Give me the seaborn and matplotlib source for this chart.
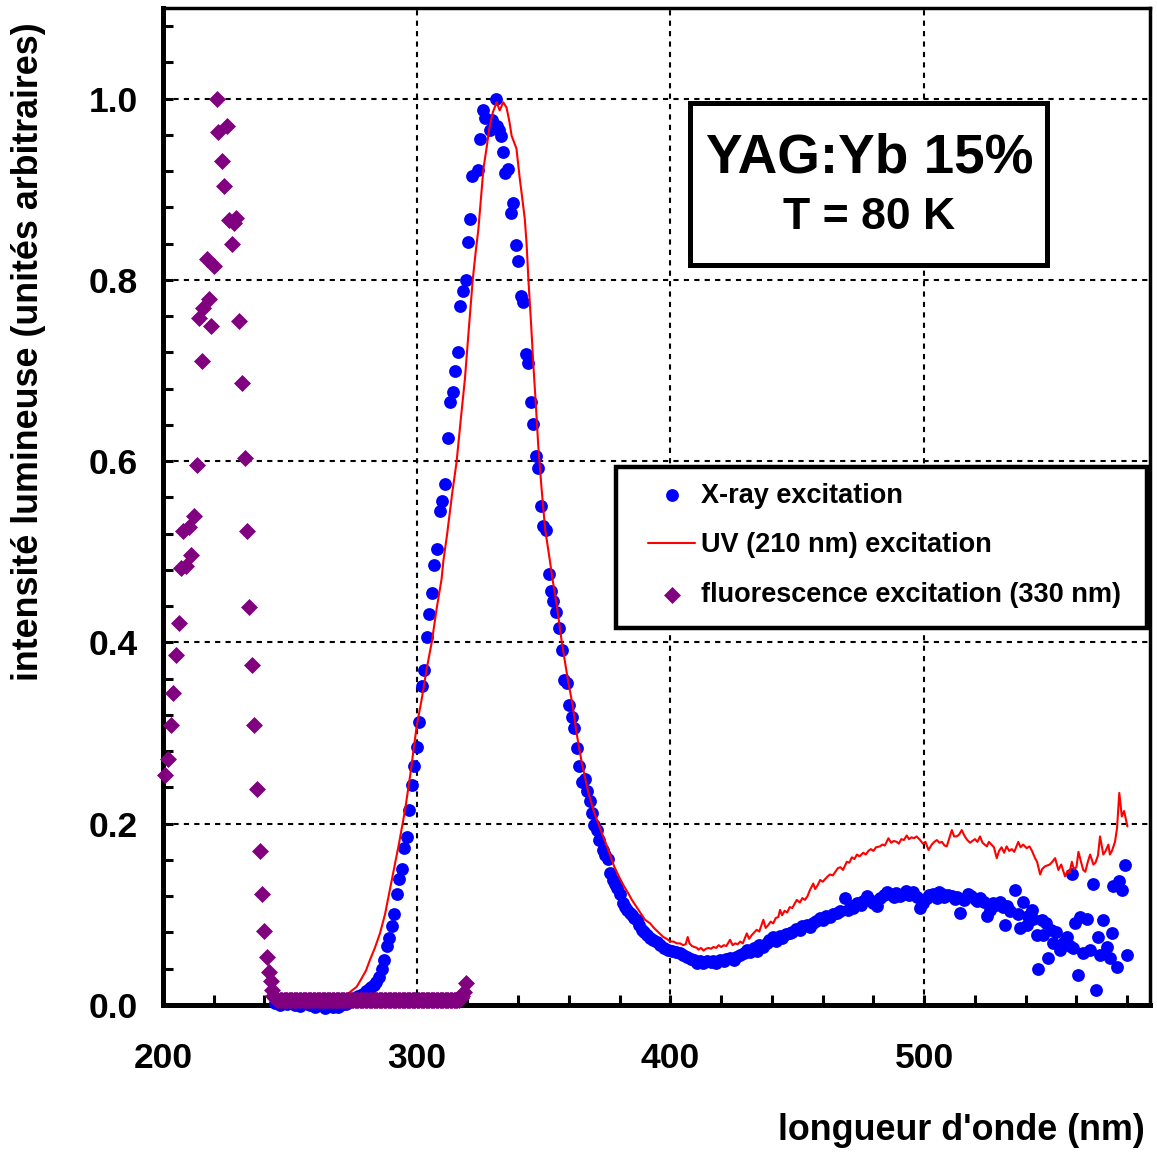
import matplotlib
matplotlib.use('Agg')
import matplotlib.pyplot as plt
import seaborn as sns
import numpy as np
from matplotlib.ticker import MultipleLocator
from matplotlib.patches import Rectangle

# ---------------- data ----------------
xray_nm = [244, 245, 246, 247, 248, 249, 250, 251, 252, 253, 254, 255, 256, 257, 258, 259, 260,
           261, 262, 263, 264, 265, 266, 267, 268, 269, 270, 271, 272, 273, 274, 275, 276, 277, 278,
           279, 280, 281, 282, 283, 284, 285.3, 286.2, 287.2, 288.2, 289.2, 290.4, 291.2, 292.1,
           293.1, 294.1, 295.1, 296.0, 297.1, 298.1, 299.1, 300.0, 301.0, 302.1, 303.0, 303.9,
           305.0, 306.0, 307.0, 307.9, 309.2, 310.1, 311.2, 312.2, 313.1, 314.2, 315.1, 316.2,
           317.1, 318.1, 319.3, 320.1, 321.0, 321.7, 324.3, 325.0, 326.0, 326.9, 328.9, 329.5,
           331.1, 331.5, 332.6, 333.2, 334.1, 334.8, 336.1, 337.2, 338.1, 339.1, 340.0, 341.0,
           342.0, 343.1, 344.0, 345.1, 346.0, 347.0, 347.9, 349.0, 349.9, 351.0, 352.1, 352.9,
           353.8, 354.9, 356.1, 357.2, 358.1, 359.1, 360.1, 361.1, 362.0, 363.1, 364.1, 365.0,
           366.3, 367.2, 368.3, 369.0, 370.0, 371.0, 372.0, 373.3, 374.3, 375.3, 376.2, 377.3,
           378.0, 378.8, 380.1, 381.4, 382.2, 383.0, 384.0, 384.7, 385.7, 386.7, 387.6, 388.6,
           389.6, 390.6, 392.0, 393.3, 394.6, 395.9, 397.5, 399.2, 400.5, 402.0, 403.8, 405.0,
           406.5, 408.0, 409.1, 410.4, 411.5, 413.0, 414.5, 416.0, 416.9, 418.0, 419.5, 421.0,
           422.0, 423.5, 425.0, 426.0, 427.5, 429.0, 430.1, 431.5, 433.0, 434.0, 435.0, 436.6,
           438.0, 439.0, 440.6, 441.5, 443.0, 444.0, 445.5, 447.1, 448.0, 449.5, 451.0, 452.0,
           453.7, 455.0, 456.0, 457.5, 459.0, 460.0, 461.5, 463.0, 464.0, 465.5, 467.0, 468.8,
           470.0, 471.0, 472.1, 473.5, 475.0, 476.0, 477.4, 478.5, 480.0, 481.3, 482.5, 484.0,
           485.2, 486.5, 488.0, 489.0, 490.5, 492.0, 493.0, 494.0, 495.7, 497.0, 498.4, 499.7,
           501.0, 502.0, 503.6, 505.0, 506.0, 506.9, 508.0, 509.5, 510.9, 512.0, 513.0, 514.2,
           515.5, 517.4, 518.5, 520.0, 521.0, 522.0, 523.5, 524.7, 526.0, 527.0, 528.5, 529.9,
           531.0, 531.9, 532.5, 534.0, 535.8, 537.0, 537.7, 539.0, 540.4, 541.0, 542.3, 543.0,
           544.3, 545.0, 546.3, 546.9, 548.2, 548.9, 550.0, 550.9, 552.0, 553.5, 555.0, 556.2,
           557.5, 558.2, 558.8, 559.5, 560.8, 561.5, 562.7, 564.1, 565.4, 566.7, 567.9, 568.6,
           569.3, 570.6, 571.9, 573.2, 573.9, 574.5, 575.9, 576.9, 577.9, 579.2, 579.9]
xray_int = [0.002, 0.003, 0.000, 0.004, 0.002, 0.001, 0.005, 0.002, 0.000, 0.003, -0.001, 0.002,
            0.004, 0.001, 0.000, 0.003, -0.002, 0.001, 0.003, 0.000, -0.003, 0.002, 0.004, -0.002,
            0.001, -0.002, 0.000, 0.002, 0.001, 0.003, 0.004, 0.006, 0.008, 0.010, 0.011,
            0.012, 0.015, 0.018, 0.020, 0.022, 0.025, 0.031, 0.040, 0.050, 0.065, 0.074, 0.087,
            0.100, 0.122, 0.139, 0.150, 0.173, 0.185, 0.215, 0.243, 0.264, 0.285, 0.312, 0.352,
            0.370, 0.406, 0.431, 0.455, 0.486, 0.503, 0.545, 0.556, 0.575, 0.626, 0.665, 0.676,
            0.699, 0.720, 0.771, 0.788, 0.800, 0.842, 0.867, 0.915, 0.921, 0.956, 0.987, 0.979,
            0.965, 0.976, 1.000, 0.970, 0.965, 0.959, 0.941, 0.918, 0.922, 0.874, 0.885, 0.839,
            0.821, 0.782, 0.776, 0.718, 0.708, 0.665, 0.641, 0.606, 0.593, 0.551, 0.528, 0.524,
            0.476, 0.457, 0.446, 0.434, 0.416, 0.392, 0.359, 0.355, 0.331, 0.318, 0.306, 0.284,
            0.264, 0.246, 0.249, 0.236, 0.225, 0.212, 0.199, 0.193, 0.182, 0.171, 0.165, 0.161,
            0.146, 0.138, 0.133, 0.129, 0.123, 0.112, 0.108, 0.105, 0.101, 0.099, 0.096, 0.094,
            0.088, 0.083, 0.080, 0.077, 0.074, 0.072, 0.069, 0.066, 0.063, 0.061, 0.060, 0.058,
            0.057, 0.055, 0.053, 0.051, 0.050, 0.046, 0.048, 0.046, 0.049, 0.047, 0.048, 0.046,
            0.050, 0.048, 0.051, 0.052, 0.050, 0.053, 0.055, 0.057, 0.061, 0.058, 0.063, 0.060,
            0.066, 0.064, 0.068, 0.072, 0.075, 0.071, 0.076, 0.074, 0.078, 0.079, 0.081, 0.084,
            0.083, 0.087, 0.088, 0.086, 0.091, 0.093, 0.096, 0.094, 0.098, 0.097, 0.100, 0.101,
            0.104, 0.118, 0.105, 0.109, 0.107, 0.112, 0.110, 0.115, 0.120, 0.116, 0.113, 0.109,
            0.118, 0.121, 0.125, 0.122, 0.119, 0.124, 0.120, 0.123, 0.126, 0.121, 0.125, 0.119,
            0.107, 0.112, 0.118, 0.121, 0.123, 0.118, 0.125, 0.123, 0.119, 0.121, 0.120, 0.117,
            0.119, 0.101, 0.116, 0.123, 0.120, 0.117, 0.115, 0.118, 0.114, 0.098, 0.105, 0.112,
            0.110, 0.114, 0.108, 0.088, 0.109, 0.104, 0.127, 0.100, 0.085, 0.114, 0.088, 0.098,
            0.105, 0.095, 0.077, 0.040, 0.094, 0.077, 0.090, 0.052, 0.083, 0.068, 0.080, 0.061,
            0.070, 0.075, 0.065, 0.144, 0.063, 0.090, 0.033, 0.097, 0.057, 0.095, 0.061, 0.134,
            0.017, 0.075, 0.055, 0.094, 0.064, 0.052, 0.079, 0.131, 0.042, 0.137, 0.127, 0.154,
            0.055]

uv_nm = [245, 247, 249, 251, 253, 255, 257, 259, 261, 263, 265, 267, 269, 270.5, 272, 274,
         276.3, 278, 280, 281.6, 283.5, 285.5, 287.5, 289.2, 291, 293, 295.4, 297.5, 300, 302,
         304, 305.9, 308, 309.8, 310.5, 312, 314, 315.7, 317.5, 319, 320.5, 322.1, 323.2, 324.3,
         325.3, 326.3, 327.5, 328.6, 330, 331.5, 332.7, 334.1, 335.4, 336.5, 337.4, 339.3,
         340.6, 341.6, 342.6, 343.3, 344.0, 345, 346.0, 347, 347.9, 349.2, 350.6, 352.5, 353.5,
         355, 357.2, 359.5, 361.5, 363, 365, 367.7, 370, 372, 375, 377.8, 380, 381.5, 383.4,
         385, 387.4, 389, 390, 392, 393.5, 395, 397.2, 398.5, 400, 401.2, 402.5, 403.8, 405,
         406, 406.8, 407.5, 408.5, 409.5, 410.4, 411.1, 412, 413, 414, 415, 416, 416.9, 418,
         419, 420, 421, 422, 423.5, 424.5, 425.5, 426.5, 427.5, 428.5, 430.1, 431, 432, 433,
         434, 435, 436.6, 437.5, 438.5, 439.5, 440.5, 441.5, 442.5, 443.2, 444, 445, 446, 447,
         448, 449, 449.8, 451, 452, 453, 454, 455, 456.3, 457, 458, 459, 460, 461, 462, 462.9,
         464, 465, 466, 467, 468, 469.5, 470.5, 471.5, 472.5, 473.5, 474.5, 476, 477, 478, 479,
         480, 481, 482.6, 483.5, 484.5, 485.9, 487, 488, 489.2, 490, 491, 492, 493.1, 494, 495,
         496, 497, 498.4, 499.5, 500.5, 501.7, 503, 504, 505, 506, 507, 508, 508.9, 510, 510.9,
         511.8, 512.8, 513.8, 514.8, 516, 517, 518.1, 519, 520, 521, 522, 523, 524.7, 525.5,
         526.5, 527.5, 528.6, 529.5, 530.5, 531.5, 532.5, 533.5, 534.5, 535.5, 537.1, 538, 539,
         540.4, 541.5, 542.5, 543.7, 544.5, 545.7, 546.5, 547.6, 548.5, 549.5, 550.5, 551.6,
         552.3, 552.9, 554, 555.5, 556.5, 557.3, 558.2, 559, 560, 560.8, 561.8, 562.7, 563.5,
         564.5, 565.4, 566.7, 567.5, 568.5, 569.3, 570, 570.6, 571.5, 572.6, 573.2, 574, 575.2,
         576, 576.9, 577.9, 578.8, 580.1]
uv_int = [0.002, 0.003, 0.002, 0.003, 0.002, 0.003, 0.002, 0.003, 0.002, 0.003, 0.003, 0.004,
          0.005, 0.007, 0.010, 0.015, 0.020, 0.028, 0.038, 0.050, 0.063, 0.079, 0.100, 0.124,
          0.150, 0.178, 0.215, 0.255, 0.308, 0.338, 0.372, 0.400, 0.440, 0.470, 0.490, 0.520,
          0.565, 0.599, 0.650, 0.691, 0.745, 0.801, 0.830, 0.856, 0.890, 0.923, 0.945, 0.967,
          0.985, 0.996, 0.987, 0.996, 0.990, 0.975, 0.959, 0.945, 0.912, 0.890, 0.867, 0.840,
          0.801, 0.755, 0.705, 0.660, 0.617, 0.570, 0.525, 0.490, 0.470, 0.445, 0.400, 0.360,
          0.330, 0.300, 0.268, 0.234, 0.212, 0.197, 0.175, 0.153, 0.140, 0.132, 0.123, 0.115,
          0.105, 0.098, 0.094, 0.090, 0.085, 0.081, 0.075, 0.073, 0.070, 0.070, 0.068, 0.068,
          0.066, 0.067, 0.075, 0.068, 0.065, 0.064, 0.063, 0.061, 0.063, 0.060, 0.062, 0.063,
          0.062, 0.064, 0.063, 0.066, 0.064, 0.066, 0.065, 0.072, 0.066, 0.068, 0.067, 0.070,
          0.068, 0.079, 0.073, 0.077, 0.080, 0.083, 0.081, 0.094, 0.085, 0.088, 0.092, 0.090,
          0.096, 0.097, 0.105, 0.099, 0.104, 0.102, 0.108, 0.107, 0.112, 0.116, 0.113, 0.118,
          0.116, 0.120, 0.127, 0.134, 0.128, 0.132, 0.138, 0.136, 0.139, 0.142, 0.144, 0.143,
          0.147, 0.151, 0.152, 0.149, 0.158, 0.157, 0.163, 0.161, 0.166, 0.164, 0.168, 0.166,
          0.170, 0.172, 0.170, 0.174, 0.175, 0.177, 0.176, 0.184, 0.179, 0.181, 0.180, 0.178,
          0.183, 0.182, 0.187, 0.183, 0.185, 0.184, 0.186, 0.182, 0.178, 0.180, 0.171, 0.177,
          0.180, 0.182, 0.179, 0.180, 0.176, 0.175, 0.185, 0.193, 0.186, 0.186, 0.188, 0.193,
          0.186, 0.182, 0.179, 0.181, 0.183, 0.180, 0.186, 0.179, 0.175, 0.180, 0.177, 0.174,
          0.162, 0.170, 0.174, 0.168, 0.175, 0.170, 0.172, 0.169, 0.180, 0.174, 0.177, 0.173,
          0.175, 0.170, 0.162, 0.158, 0.144, 0.150, 0.153, 0.154, 0.155, 0.158, 0.162, 0.155,
          0.149, 0.155, 0.142, 0.148, 0.146, 0.158, 0.150, 0.152, 0.169, 0.158, 0.149, 0.147,
          0.158, 0.166, 0.155, 0.157, 0.165, 0.186, 0.175, 0.166, 0.170, 0.177, 0.166, 0.170,
          0.180, 0.195, 0.234, 0.208, 0.214, 0.197]

fluo_nm = [200.8, 202.1, 203.0, 204.1, 205.1, 206.3, 207.1, 208.0, 209.1, 210.2, 211.0, 212.2,
           213.4, 214.2, 215.2, 215.9, 217.2, 218.3, 219.0, 220.2, 221.2, 221.8, 223.1, 224.0,
           225.1, 226.1, 227.0, 228.0, 228.8, 230.1, 231.1, 232.2, 233.2, 234.0, 235.2, 236.0,
           236.9, 238.1, 239.1, 240.0, 241.0, 241.9, 242.4, 243.0, 243.5,
           244.0, 244.5, 245.0, 245.5, 246.0, 246.5, 247.0, 247.5, 248.0, 248.5, 249.0, 249.5,
           250.0, 250.5, 251.0, 251.5, 252.0, 252.5, 253.0, 253.5, 254.0, 254.5, 255.0, 255.5,
           256.0, 256.5, 257.0, 257.5, 258.0, 258.5, 259.0, 259.5, 260.0, 260.5, 261.0, 261.5,
           262.0, 262.5, 263.0, 263.5, 264.0, 264.5, 265.0, 265.5, 266.0, 266.5, 267.0, 267.5,
           268.0, 268.5, 269.0, 269.5, 270.0, 270.5, 271.0, 271.5, 272.0, 272.5, 273.0, 273.5,
           274.0, 274.5, 275.0, 275.5, 276.0, 276.5, 277.0, 277.5, 278.0, 278.5, 279.0, 279.5,
           280.0, 280.5, 281.0, 281.5, 282.0, 282.5, 283.0, 283.5, 284.0, 284.5, 285.0, 285.5,
           286.0, 286.5, 287.0, 287.5, 288.0, 288.5, 289.0, 289.5, 290.0, 290.5, 291.0, 291.5,
           292.0, 292.5, 293.0, 293.5, 294.0, 294.5, 295.0, 295.5, 296.0, 296.5, 297.0, 297.5,
           298.0, 298.5, 299.0, 299.5, 300.0, 300.5, 301.0, 301.5, 302.0, 302.5, 303.0, 303.5,
           304.0, 304.5, 305.0, 305.5, 306.0, 306.5, 307.0, 307.5, 308.0, 308.5, 309.0, 309.5,
           310.0, 310.5, 311.0, 311.5, 312.0, 312.5, 313.0, 313.5, 314.0, 314.5, 315.0, 315.5,
           316.0, 316.5, 317.0, 317.5, 318.0, 318.6, 319.4]
fluo_int = [0.254, 0.271, 0.309, 0.344, 0.386, 0.421, 0.482, 0.523, 0.484, 0.527, 0.496, 0.540,
            0.596, 0.758, 0.710, 0.769, 0.823, 0.779, 0.749, 0.815, 1.000, 0.963, 0.931, 0.904,
            0.970, 0.866, 0.840, 0.863, 0.868, 0.755, 0.686, 0.604, 0.523, 0.439, 0.375, 0.309,
            0.238, 0.170, 0.122, 0.082, 0.053, 0.036, 0.026, 0.016, 0.010,
            0.008, 0.007, 0.006, 0.006, 0.005, 0.006, 0.005, 0.005, 0.006, 0.005, 0.005, 0.006,
            0.005, 0.005, 0.006, 0.005, 0.005, 0.005, 0.006, 0.005, 0.005, 0.006, 0.005, 0.005,
            0.005, 0.006, 0.005, 0.005, 0.006, 0.005, 0.005, 0.005, 0.006, 0.005, 0.005, 0.006,
            0.005, 0.005, 0.005, 0.006, 0.005, 0.005, 0.006, 0.005, 0.005, 0.005, 0.006, 0.005,
            0.005, 0.006, 0.005, 0.005, 0.005, 0.006, 0.005, 0.005, 0.006, 0.005, 0.005, 0.005,
            0.006, 0.005, 0.005, 0.006, 0.005, 0.005, 0.005, 0.006, 0.005, 0.005, 0.006, 0.005,
            0.005, 0.005, 0.006, 0.005, 0.005, 0.006, 0.005, 0.005, 0.005, 0.006, 0.005, 0.005,
            0.006, 0.005, 0.005, 0.005, 0.006, 0.005, 0.005, 0.006, 0.005, 0.005, 0.005, 0.006,
            0.005, 0.005, 0.006, 0.005, 0.005, 0.005, 0.006, 0.005, 0.005, 0.006, 0.005, 0.005,
            0.005, 0.006, 0.005, 0.005, 0.006, 0.005, 0.005, 0.005, 0.006, 0.005, 0.005, 0.006,
            0.005, 0.005, 0.005, 0.006, 0.005, 0.005, 0.006, 0.005, 0.005, 0.005, 0.006, 0.005,
            0.005, 0.006, 0.005, 0.005, 0.005, 0.006, 0.005, 0.005, 0.006, 0.005, 0.005, 0.005,
            0.006, 0.006, 0.007, 0.008, 0.010, 0.014, 0.024]

x_major = [200, 300, 400, 500]
y_major = [0.0, 0.2, 0.4, 0.6, 0.8, 1.0]
y_major_labels = ['0.0', '0.2', '0.4', '0.6', '0.8', '1.0']

series_labels = ['X-ray excitation', 'UV (210 nm) excitation', 'fluorescence excitation (330 nm)']
box_line1 = 'YAG:Yb 15%'
box_line2 = 'T = 80 K'
xlabel = "longueur d'onde (nm)"
ylabel = 'intensité lumineuse (unités arbitraires)'

# ---------------- styling ----------------
sns.set_theme(style='white')
plt.rcParams['font.family'] = ['Liberation Sans', 'DejaVu Sans']
plt.rcParams['font.weight'] = 'bold'
plt.rcParams['axes.labelweight'] = 'bold'
plt.rcParams['text.color'] = 'black'
plt.rcParams['axes.labelcolor'] = 'black'
plt.rcParams['xtick.color'] = 'black'
plt.rcParams['ytick.color'] = 'black'
plt.rcParams['xtick.labelcolor'] = 'black'
plt.rcParams['ytick.labelcolor'] = 'black'

fig = plt.figure(figsize=(11.57, 11.55), dpi=100)
ax = fig.add_axes([163 / 1157, 150 / 1155, 987 / 1157, 997 / 1155])

sns.scatterplot(x=xray_nm, y=xray_int, color='#0000FF', s=85, linewidth=0, marker='o',
                label=series_labels[0], ax=ax, zorder=3, clip_on=False)
sns.lineplot(x=uv_nm, y=uv_int, color='#FF0000', linewidth=1.5, label=series_labels[1],
             ax=ax, zorder=4, sort=False, estimator=None)
sns.scatterplot(x=fluo_nm, y=fluo_int, color='#800080', s=75, linewidth=0, marker='D',
                label=series_labels[2], ax=ax, zorder=5, clip_on=False)

ax.set_xlim(200, 589)
ax.set_ylim(0, 1.1)
ax.set_xticks(x_major)
ax.set_xticklabels([str(v) for v in x_major])
ax.set_yticks(y_major)
ax.set_yticklabels(y_major_labels)
ax.xaxis.set_minor_locator(MultipleLocator(20))
ax.yaxis.set_minor_locator(MultipleLocator(0.04))

ax.tick_params(which='both', direction='in', length=7, width=2.2, color='black',
               top=False, right=False, left=True, bottom=True)
ax.tick_params(axis='x', which='major', pad=27, labelsize=25.5, labelcolor='black')
ax.tick_params(axis='y', which='major', pad=18, labelsize=25.5, labelcolor='black')
for lab in ax.get_xticklabels() + ax.get_yticklabels():
    lab.set_fontweight('bold')

ax.grid(True, which='major', color='black', linestyle=(0, (2.5, 2.5)), linewidth=1.5)
ax.set_axisbelow(True)

for side in ['left', 'bottom']:
    ax.spines[side].set_linewidth(3.6)
    ax.spines[side].set_color('black')
for side in ['top', 'right']:
    ax.spines[side].set_linewidth(2.5)
    ax.spines[side].set_color('black')

ax.set_xlabel(xlabel, fontsize=25.8, fontweight='bold', loc='right', color='black')
ax.xaxis.set_label_coords(0.995, -0.108)
ax.set_ylabel(ylabel, fontsize=25.8, fontweight='bold', color='black')
ax.yaxis.set_label_coords(-0.1185, 0.655)

# annotation box
ax.add_patch(Rectangle((0.534, 0.742), 0.3617, 0.1627, transform=ax.transAxes,
                       facecolor='white', edgecolor='black', linewidth=3.6, zorder=8))
ax.text(0.716, 0.8495, box_line1, transform=ax.transAxes, ha='center', va='center',
        fontsize=39.5, fontweight='bold', zorder=9, color='black')
ax.text(0.715, 0.790, box_line2, transform=ax.transAxes, ha='center', va='center',
        fontsize=32, fontweight='bold', zorder=9, color='black')

# legend
ax.add_patch(Rectangle((0.459, 0.378), 0.538, 0.162, transform=ax.transAxes,
                       facecolor='white', edgecolor='black', linewidth=3.2, zorder=8))
handles, labels = ax.get_legend_handles_labels()
order = [labels.index(l) for l in series_labels]
leg = ax.legend([handles[i] for i in order], [labels[i] for i in order],
                loc='upper left', bbox_to_anchor=(0.4914, 0.524), frameon=False,
                borderpad=0, borderaxespad=0, handlelength=1.75, handletextpad=0.2,
                labelspacing=0.88, prop={'size': 19.5, 'weight': 'bold'}, scatterpoints=1)
for t in leg.get_texts():
    t.set_color('black')
leg.set_zorder(10)

fig.savefig('out.png', dpi=100)
